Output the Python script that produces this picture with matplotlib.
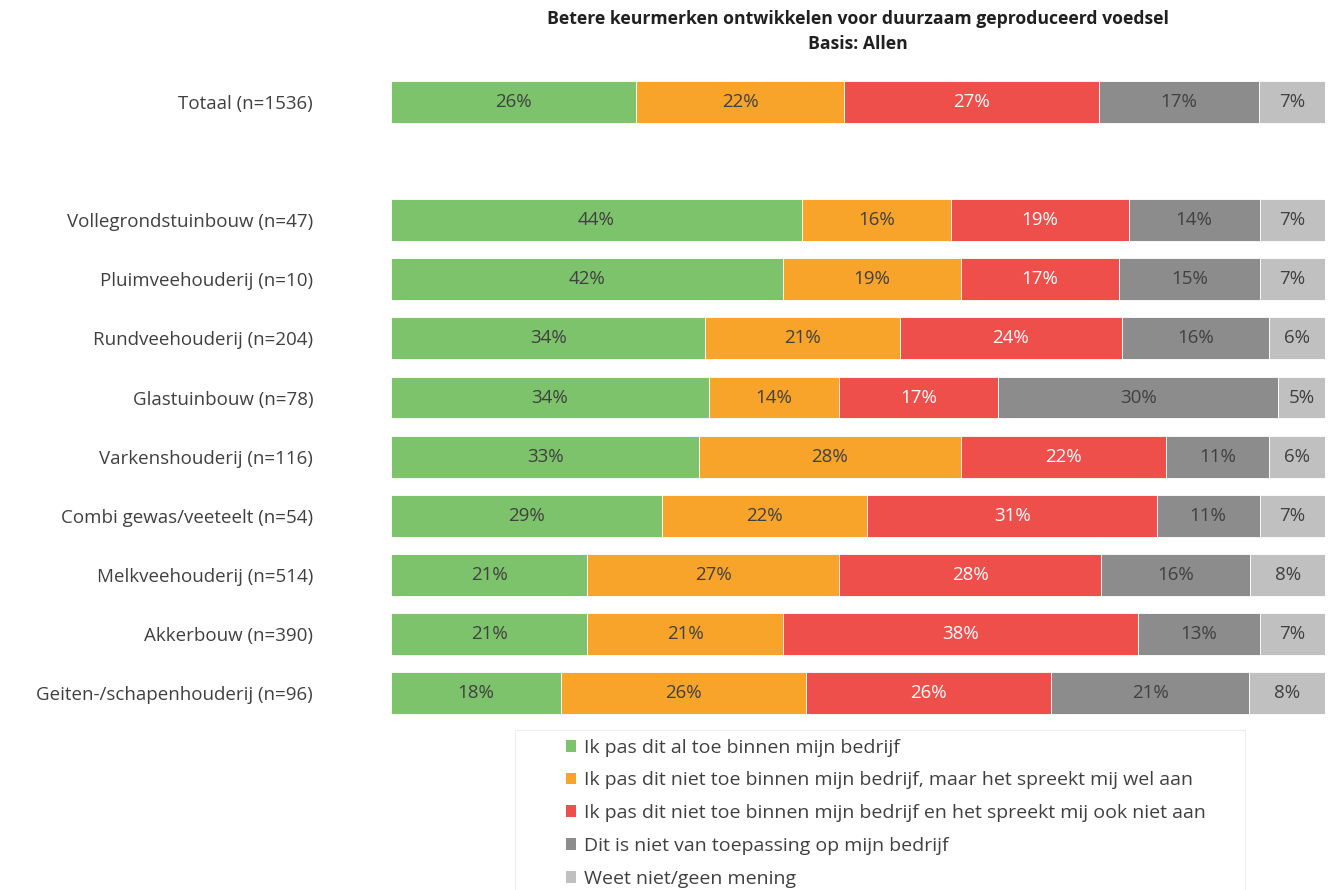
import numpy as np
import matplotlib
matplotlib.use("Agg")
import matplotlib.pyplot as plt
from matplotlib.patches import Rectangle

plt.rcParams['font.family'] = ['Open Sans', 'DejaVu Sans']

# labels and values (percentages as shown in the chart)
groups = ['Totaal (n=1536)', 'Vollegrondstuinbouw (n=47)', 'Pluimveehouderij (n=10)',
          'Rundveehouderij (n=204)', 'Glastuinbouw (n=78)', 'Varkenshouderij (n=116)',
          'Combi gewas/veeteelt (n=54)', 'Melkveehouderij (n=514)', 'Akkerbouw (n=390)',
          'Geiten-/schapenhouderij (n=96)']
answers = ['Ik pas dit al toe binnen mijn bedrijf',
           'Ik pas dit niet toe binnen mijn bedrijf, maar het spreekt mij wel aan',
           'Ik pas dit niet toe binnen mijn bedrijf en het spreekt mij ook niet aan',
           'Dit is niet van toepassing op mijn bedrijf',
           'Weet niet/geen mening']
al_toe = [26, 44, 42, 34, 34, 33, 29, 21, 21, 18]
spreekt_aan = [22, 16, 19, 21, 14, 28, 22, 27, 21, 26]
spreekt_niet_aan = [27, 19, 17, 24, 17, 22, 31, 28, 38, 26]
niet_van_toepassing = [17, 14, 15, 16, 30, 11, 11, 16, 13, 21]
weet_niet = [7, 7, 7, 6, 5, 6, 7, 8, 7, 8]

colors = ['#7dc36b', '#f8a42a', '#ef4f4a', '#8c8c8c', '#c0c0c0']
text_colors = ['#404040', '#404040', 'white', '#404040', '#404040']

data = np.array([al_toe, spreekt_aan, spreekt_niet_aan, niet_van_toepassing, weet_niet], dtype=float)
shares = data / data.sum(axis=0) * 100

# Totaal on top, then an empty row, then the sectors
ypos = np.array([0] + list(range(2, 11)))

fig = plt.figure(figsize=(13.37, 8.9), dpi=100)
ax = fig.add_axes([0.2924, 0.1882, 0.6986, 0.7303])

left = np.zeros(len(groups))
for i in range(len(answers)):
    bars = ax.barh(ypos, shares[i], left=left, height=0.71, color=colors[i],
                   edgecolor='white', linewidth=0.6, label=answers[i])
    for b, v in zip(bars, data[i]):
        ax.text(b.get_x() + b.get_width() / 2, b.get_y() + b.get_height() / 2,
                f'{v:.0f}%', ha='center', va='center', fontsize=13.5,
                color=text_colors[i])
    left += shares[i]

ax.set_xlim(0, 100)
ax.set_ylim(10.5, -0.5)
ax.set_yticks(ypos)
ax.set_yticklabels(groups, fontsize=13.5, color='#404040')
ax.tick_params(axis='y', length=0, pad=56)
ax.set_xticks([])
for s in ax.spines.values():
    s.set_visible(False)

ax.set_title('Betere keurmerken ontwikkelen voor duurzaam geproduceerd voedsel\nBasis: Allen',
             fontsize=12.7, fontweight='bold', color='#202020', pad=17, linespacing=1.5)

# legend box (runs off the bottom of the picture)
fig.patches.append(Rectangle((515 / 1337, -0.05), 730 / 1337, 1 - 730 / 890 + 0.05,
                             transform=fig.transFigure, facecolor='none',
                             edgecolor='#eeeeee', linewidth=0.8))
leg = fig.legend(loc='upper left', bbox_to_anchor=(552 / 1337, 1 - 725 / 890),
                 fontsize=14, frameon=False, handlelength=0.55, handleheight=0.55,
                 handletextpad=0.4, labelspacing=0.76, borderpad=0.2,
                 labelcolor='#404040')
for h in leg.legend_handles:
    h.set_edgecolor('none')

fig.savefig('out.png', dpi=100)
